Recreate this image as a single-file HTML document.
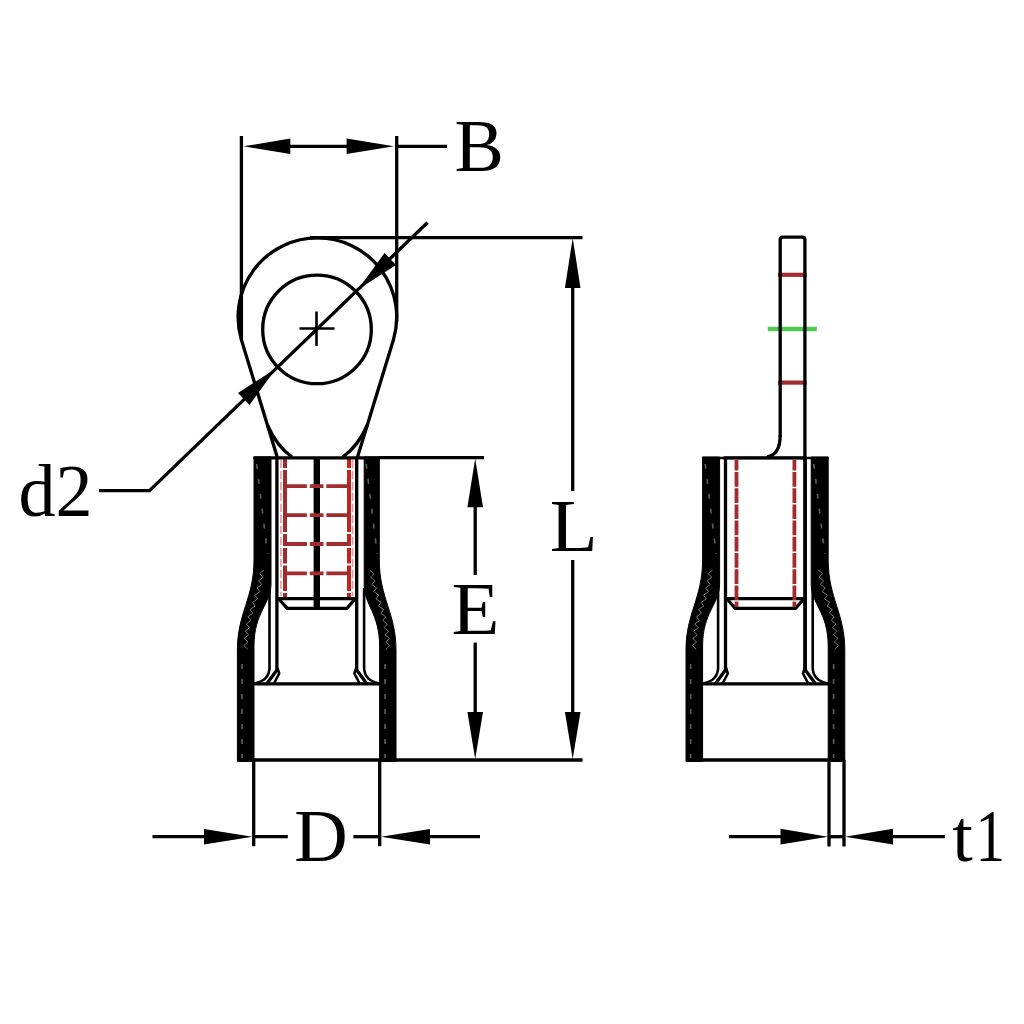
<!DOCTYPE html>
<html><head><meta charset="utf-8">
<style>
html,body{margin:0;padding:0;background:#fff;}
body{width:1024px;height:1024px;overflow:hidden;}
svg{display:block;filter:blur(0.55px);}
text{font-family:"Liberation Serif",serif;font-size:74px;fill:#000;}
.k{stroke:#000;fill:none;stroke-width:3.3;}
.t{stroke:#000;fill:none;stroke-width:2.6;}
.a{fill:#000;stroke:none;}
.r{stroke:#c8201e;fill:none;}
.rd{stroke:#a02c30;fill:none;}
.b{fill:#000;stroke:#000;stroke-width:1;}
.g{stroke:#5a5a5a;fill:none;stroke-width:1.7;stroke-dasharray:5 10;}
.h{stroke:#7a7a7a;fill:none;stroke-width:1;}
</style></head><body>
<svg width="1024" height="1024" viewBox="0 0 1024 1024">
<defs>
<g id="hatch"><path class="h" d="M 264.0 570.0 L 259.6 573.6 L 263.1 577.2 L 258.6 580.8 L 261.8 584.4 L 257.0 588.0 L 260.0 591.6 L 254.8 595.2 L 257.7 598.8 L 252.5 602.4 L 255.2 606.0 L 249.9 609.6 L 252.9 613.2 L 247.9 616.8 L 250.9 620.4 L 246.3 624.0 L 249.6 627.6 L 245.1 631.2 L 248.6 634.8 L 244.2 638.4 L 247.9 642.0 L 243.8 645.6 L 247.6 649.2"/></g>
<g id="bandL">
<path class="b" d="M 254 457 L 271 457 L 271 584 C 271 604 254 612 254 646 L 254 761.5 L 237.4 761.5 L 237.4 650 C 237.4 613 254 598 254 560 Z"/>
<use href="#hatch"/>
</g>
<g id="wallL">
<path class="k" stroke-linejoin="round" d="M 276.9 457 L 276.9 670 L 267 683.5"/>
<path class="t" stroke-linejoin="round" d="M 277.4 668 L 279.2 673.5 L 274 683.5"/>
<path class="t" d="M 269.5 588 L 269.5 668 Q 269 680.5 255 683.3"/>
</g>
<g id="half"><use href="#bandL"/><use href="#wallL"/></g>
<g id="dsh">
<path class="g" d="M 256.6 464 L 267.6 554"/>
</g>
<g id="dsl">
<path class="g" d="M 242 664 L 242 758" stroke-dasharray="7 8"/>
</g>
</defs>
<rect width="1024" height="1024" fill="#fff"/>

<!-- ===== FRONT VIEW ===== -->
<g id="dimB">
<line class="k" x1="241.4" y1="136" x2="241.4" y2="340"/>
<line class="k" x1="396.7" y1="136" x2="396.7" y2="322"/>
<line class="k" x1="288" y1="146.3" x2="349" y2="146.3"/>
<line class="k" x1="396" y1="146.3" x2="447" y2="146.3"/>
<polygon class="a" points="243.5,146.3 290.3,138.6 290.3,154"/>
<polygon class="a" points="394,146.3 346.6,138.6 346.6,154"/>
<text x="454.5" y="170.7">B</text>
</g>

<g id="ring">
<path class="k" d="M 277.2 457 L 241.57 340.37 A 79.3 79.3 0 1 1 393.23 340.42 L 357.5 457"/>
<path class="k" d="M 267.4 425 Q 276.5 446 292 457"/>
<path class="k" d="M 367.3 425 Q 358.3 446 342.8 457"/>
<path class="a" d="M 241.4 291 A 79.3 79.3 0 0 0 241.4 342.5 Z"/>
<circle class="k" cx="317" cy="329.4" r="54.3"/>
<line class="t" x1="299.5" y1="328.5" x2="334.5" y2="328.5"/>
<line class="t" x1="316.5" y1="311.5" x2="316.5" y2="346"/>
</g>

<g id="d2">
<path class="k" d="M 427.5 222.5 L 149.5 490.6 L 99 490.6"/>
<polygon class="a" points="358,289.5 384.5,253 396,265"/>
<polygon class="a" points="276,368.5 249.5,405 238,393"/>
<text x="18.5" y="515.7">d2</text>
</g>

<g id="dimL">
<line class="k" x1="310" y1="237.6" x2="582.5" y2="237.6"/>
<line class="k" x1="237.6" y1="760" x2="582.5" y2="760"/>
<line class="k" x1="572.7" y1="286" x2="572.7" y2="491"/>
<line class="k" x1="572.7" y1="560" x2="572.7" y2="714"/>
<polygon class="a" points="572.7,238 564.9,288 580.5,288"/>
<polygon class="a" points="572.7,759 564.9,712 580.5,712"/>
<text x="551" y="551.5" transform="translate(573.4 0) scale(1.06 1) translate(-573.4 0)">L</text>
</g>

<g id="dimE">
<line class="k" x1="379" y1="457.6" x2="484" y2="457.6"/>
<line class="k" x1="475.2" y1="505" x2="475.2" y2="575"/>
<line class="k" x1="475.2" y1="642.6" x2="475.2" y2="714"/>
<polygon class="a" points="475.2,458.5 467.4,507.3 483,507.3"/>
<polygon class="a" points="475.2,759 467.4,712 483,712"/>
<text x="452.8" y="634" transform="translate(475 0) scale(1.06 1) translate(-475 0)">E</text>
</g>

<g id="dimD">
<line class="k" x1="253.7" y1="760" x2="253.7" y2="846.2"/>
<line class="k" x1="379.7" y1="760" x2="379.7" y2="846.2"/>
<line class="k" x1="152.5" y1="836.7" x2="206" y2="836.7"/>
<line class="k" x1="253" y1="836.7" x2="287.8" y2="836.7"/>
<line class="k" x1="353.4" y1="836.7" x2="380" y2="836.7"/>
<line class="k" x1="428" y1="836.7" x2="480" y2="836.7"/>
<polygon class="a" points="252.5,836.7 204,829 204,844.4"/>
<polygon class="a" points="381,836.7 430,829 430,844.4"/>
<text x="294.3" y="860.7">D</text>
</g>

<g id="sleeveF">
<use href="#half"/>
<path class="b" d="M 379.3 457 L 364.2 457 L 364.2 586 C 364.2 604 379.6 614 379.6 646 L 379.6 761.5 L 396 761.5 L 396 650 C 396 613 379.3 598 379.3 560 Z"/>
<use href="#hatch" transform="translate(633.6 0) scale(-1 1)"/>
<use href="#wallL" transform="translate(633.6 0) scale(-1 1)"/>
<use href="#dsh"/><use href="#dsh" transform="translate(109.6 0)"/>
<use href="#dsl"/><use href="#dsl" transform="translate(143 0)"/>
<line class="k" x1="254" y1="683.8" x2="379.5" y2="683.8"/>
<!-- crimp -->
<line class="k" x1="276.6" y1="598.6" x2="357" y2="598.6"/>
<path class="k" stroke-linejoin="round" d="M 278.8 599 L 287.3 608.3 L 347 608.3 L 355 599"/>
<line x1="316.8" y1="457" x2="316.8" y2="609" stroke="#000" stroke-width="6.4"/>
<line class="rd" x1="285" y1="457.5" x2="285" y2="597" stroke-width="4" stroke-dasharray="10.5 2 62 2 12 2 15.5 2 25.5 2 8 0"/>
<line class="r" x1="349" y1="457.5" x2="349" y2="597" stroke-width="4" stroke-dasharray="10.5 2 62 2 12 2 15.5 2 25.5 2 8 0"/>
<line class="r" x1="281" y1="460" x2="281" y2="596" stroke-width="1.6" stroke-dasharray="8 3" opacity=".45"/>
<line class="r" x1="352.6" y1="460" x2="352.6" y2="596" stroke-width="1.6" stroke-dasharray="8 3" opacity=".45"/>
<g class="rd" stroke-width="3.8" stroke-dasharray="23.9 2.9 13.7 2.9 30 0">
<line x1="283" y1="486.1" x2="351" y2="486.1"/>
<line x1="283" y1="515.2" x2="351" y2="515.2"/>
<line x1="283" y1="544" x2="351" y2="544"/>
<line x1="283" y1="573.3" x2="351" y2="573.3"/>
</g>
<line class="k" x1="253.5" y1="457.8" x2="380" y2="457.8" stroke-width="3.6"/>
</g>

<!-- ===== SIDE VIEW ===== -->
<g id="side">
<line class="rd" x1="778" y1="274.8" x2="806.8" y2="274.8" stroke-width="4.2"/>
<line class="rd" x1="778" y1="382.6" x2="806.8" y2="382.6" stroke-width="4.2"/>
<line x1="767.8" y1="329" x2="816.8" y2="329" stroke="#52c656" stroke-width="4.4"/>
<path class="k" stroke-width="3.5" d="M 780.2 437 L 780.2 239.7 Q 780.2 237.2 782.7 237.2 L 802.4 237.2 Q 804.9 237.2 804.9 239.7 L 804.9 670"/>
<path class="k" d="M 780.2 435 Q 780.2 455 767 456.8"/>
<g transform="translate(448.6 0)">
<use href="#half"/>
<use href="#half" transform="translate(633.6 0) scale(-1 1)"/>
<use href="#dsh"/><use href="#dsh" transform="translate(108.6 0)"/>
<use href="#dsl"/><use href="#dsl" transform="translate(143 0)"/>
</g>
<line class="t" x1="702" y1="458" x2="828.5" y2="458"/>
<line class="k" x1="723.6" y1="457.8" x2="806.4" y2="457.8" stroke-width="4.2"/>
<line class="k" x1="702.5" y1="683.8" x2="828.5" y2="683.8"/>
<line class="k" x1="686" y1="760" x2="845" y2="760"/>
<line class="k" x1="726" y1="598.6" x2="805" y2="598.6"/>
<path class="k" stroke-linejoin="round" d="M 727 599 L 735.3 608.3 L 795.5 608.3 L 803.8 599"/>
<line class="rd" x1="736.5" y1="460" x2="736.5" y2="607" stroke-width="3.8" stroke-dasharray="14.7 1.5" stroke-dashoffset="4.2"/>
<line class="rd" x1="794.4" y1="460" x2="794.4" y2="607" stroke-width="3.8" stroke-dasharray="14.7 1.5" stroke-dashoffset="4.2"/>
</g>

<g id="dimT">
<line class="k" x1="829" y1="760" x2="829" y2="846.5"/>
<line class="k" x1="844" y1="760" x2="844" y2="846.5"/>
<line class="k" x1="829" y1="836.7" x2="844" y2="836.7"/>
<line class="k" x1="729" y1="836.7" x2="782.5" y2="836.7"/>
<line class="k" x1="891" y1="836.7" x2="945" y2="836.7"/>
<polygon class="a" points="828,836.7 780.5,828.8 780.5,844.6"/>
<polygon class="a" points="845,836.7 893,828.8 893,844.6"/>
<text x="952.3" y="860.7">t</text>
<text x="971.9" y="860.7" transform="translate(990.5 0) scale(0.8 1) translate(-990.5 0)">1</text>
</g>
</svg>
</body></html>
